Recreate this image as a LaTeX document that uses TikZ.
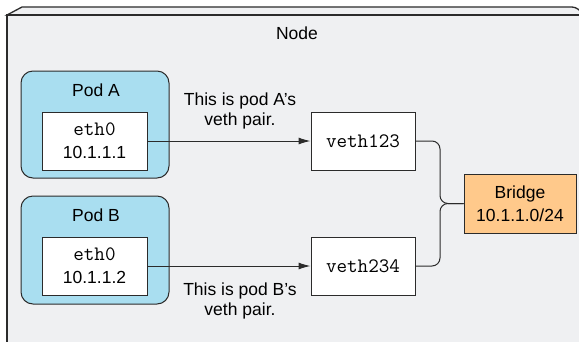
\documentclass[tikz,border=0pt]{standalone}
\usepackage{fontspec}
\setmainfont{Liberation Sans}
\setsansfont{Liberation Sans}
\usetikzlibrary{arrows.meta}
\definecolor{bgc}{HTML}{EFF0F2}
\definecolor{podc}{HTML}{A9DEF0}
\definecolor{bridgec}{HTML}{FFC98B}
\definecolor{linec}{HTML}{2B2B2B}
\newcommand{\monotext}[1]{{\fontsize{20.5}{23}\ttfamily #1}}
\tikzset{
  px/.style={x=1pt,y=-1pt},
  podbox/.style={draw=linec, line width=1pt, fill=podc, rounded corners=12pt, minimum width=148pt, minimum height=107pt, inner sep=0pt},
  whitebox/.style={draw=linec, line width=1pt, fill=white, minimum width=105pt, minimum height=58pt, inner sep=0pt, align=center, font=\fontsize{17.5}{23}\selectfont},
  bridgebox/.style={draw=linec, line width=1pt, fill=bridgec, minimum width=112pt, minimum height=59pt, inner sep=0pt, align=center, font=\fontsize{17.5}{23}\selectfont},
  lbl/.style={inner sep=0pt, align=center, font=\fontsize{17.5}{19.5}\selectfont},
  conn/.style={draw=linec, line width=1pt},
  arr/.style={conn, -{Latex[length=12pt,width=7pt]}},
}
\begin{document}
\begin{tikzpicture}[px]
\useasboundingbox (0,0) rectangle (579,341);
\begin{scope}
\clip (0,0) rectangle (579,341);
\fill[white] (0,0) rectangle (579,341);
\fill[bgc] (7,15) rectangle (600,360);
\draw[linec, line width=1.3pt, fill=bgc] (7,15) -- (22,7) -- (572,7) .. controls (576,7) and (580,10) .. (584,15) -- cycle;
\draw[linec, line width=1.3pt] (7,360) -- (7,15) -- (600,15);
\end{scope}
\node[lbl] (nodelbl) at (297,33) {Node};
% Pod A
\node[podbox] (poda) at (95,124.5) {};
\node[lbl] (podalbl) at (96,90) {Pod A};
\node[whitebox] (etha) at (94.5,141) {\monotext{eth0}\\10.1.1.1};
% Pod B
\node[podbox, minimum height=108pt] (podb) at (95,250) {};
\node[lbl] (podblbl) at (96,215) {Pod B};
\node[whitebox] (ethb) at (94.5,266) {\monotext{eth0}\\10.1.1.2};
% veth
\node[whitebox, minimum width=104pt] (va) at (363,141) {\monotext{veth123}};
\node[whitebox, minimum width=104pt] (vb) at (363,266) {\monotext{veth234}};
% bridge
\node[bridgebox] (br) at (520,203.5) {Bridge\\10.1.1.0/24};
% labels
\node[lbl] (la) at (240,111) {This is pod A’s\\veth pair.};
\node[lbl] (lb) at (240,301) {This is pod B’s\\veth pair.};
% arrows
\draw[arr] (etha.east) -- (va.west);
\draw[arr] (ethb.east) -- (vb.west);
\coordinate (j) at (440,203.5);
\draw[conn, rounded corners=8pt] (va.east) -| (j) -- (br.west);
\draw[conn, rounded corners=8pt] (vb.east) -| (j) -- (br.west);
\end{tikzpicture}
\end{document}
